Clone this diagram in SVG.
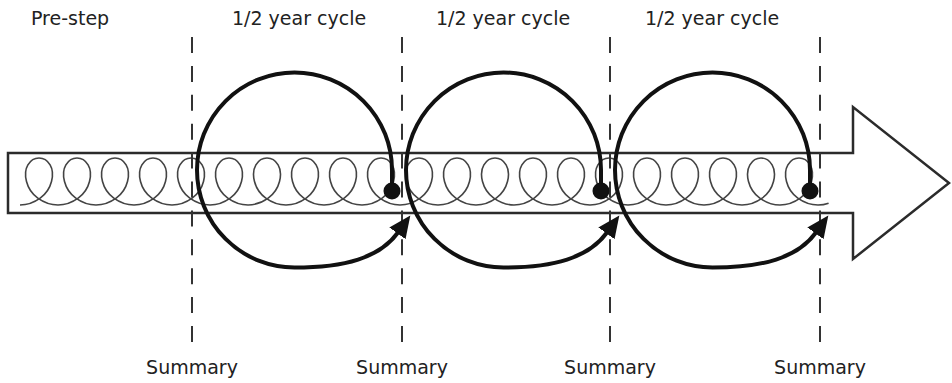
<svg xmlns="http://www.w3.org/2000/svg" xmlns:xlink="http://www.w3.org/1999/xlink" width="952" height="383" viewBox="0 0 952 383">
  <style>
    .body { fill: #ffffff; stroke: #2b2b2b; stroke-width: 2.5; stroke-linejoin: miter; }
    .coil { fill: none; stroke: #444444; stroke-width: 1.6; }
    .dash { stroke: #333333; stroke-width: 2; stroke-dasharray: 16 12.9; fill: none; }
    .cycle { fill: none; stroke: #111111; stroke-width: 4; }
    .dot { fill: #111111; }
    .label { font-family: "DejaVu Sans", "Liberation Sans", sans-serif; font-size: 19px; fill: #222222; }
  </style>
  <defs>
    <marker id="head" markerUnits="userSpaceOnUse" markerWidth="26" markerHeight="24" refX="1" refY="10" orient="auto">
      <path d="M0,0 L22,10 L0,20 Z" fill="#111111"/>
    </marker>
    <path id="loop" class="coil" d="M-19,23.5 C-11.657,23.5 -4.626,20.773 1.183,16.617 C6.992,12.461 10.917,6.152 12.5,0 C14.083,-6.152 13.587,-12.461 11.099,-16.617 C8.611,-20.773 4.176,-23.5 0,-23.5 C-4.176,-23.5 -8.611,-20.773 -11.099,-16.617 C-13.587,-12.461 -14.083,-6.152 -12.5,0 C-10.917,6.152 -6.992,12.461 -1.183,16.617 C4.626,20.773 11.657,23.5 19,23.5"/>
    <path id="cyc" class="cycle" d="M392,191 L392,170 A97.5,97.5 0 1,0 294.5,267.5 C344.5,267.5 379.5,258 398,232.5" marker-end="url(#head)"/>
  </defs>

  <g id="timeline-arrow">
    <path class="body" d="M8,153 L853,153 L853,107 L949,183 L853,259 L853,213 L8,213 Z"/>
  </g>

  <g id="coil">
    <use xlink:href="#loop" href="#loop" transform="translate(39,181.5)"/>
    <use xlink:href="#loop" href="#loop" transform="translate(77,181.5)"/>
    <use xlink:href="#loop" href="#loop" transform="translate(115,181.5)"/>
    <use xlink:href="#loop" href="#loop" transform="translate(153,181.5)"/>
    <use xlink:href="#loop" href="#loop" transform="translate(191,181.5)"/>
    <use xlink:href="#loop" href="#loop" transform="translate(229,181.5)"/>
    <use xlink:href="#loop" href="#loop" transform="translate(267,181.5)"/>
    <use xlink:href="#loop" href="#loop" transform="translate(305,181.5)"/>
    <use xlink:href="#loop" href="#loop" transform="translate(343,181.5)"/>
    <use xlink:href="#loop" href="#loop" transform="translate(381,181.5)"/>
    <use xlink:href="#loop" href="#loop" transform="translate(419,181.5)"/>
    <use xlink:href="#loop" href="#loop" transform="translate(457,181.5)"/>
    <use xlink:href="#loop" href="#loop" transform="translate(495,181.5)"/>
    <use xlink:href="#loop" href="#loop" transform="translate(533,181.5)"/>
    <use xlink:href="#loop" href="#loop" transform="translate(571,181.5)"/>
    <use xlink:href="#loop" href="#loop" transform="translate(609,181.5)"/>
    <use xlink:href="#loop" href="#loop" transform="translate(647,181.5)"/>
    <use xlink:href="#loop" href="#loop" transform="translate(685,181.5)"/>
    <use xlink:href="#loop" href="#loop" transform="translate(723,181.5)"/>
    <use xlink:href="#loop" href="#loop" transform="translate(761,181.5)"/>
    <use xlink:href="#loop" href="#loop" transform="translate(799,181.5)"/>
    <path class="coil" d="M818,205 C821.6,205 825.2,204.4 828.6,203.2"/>
  </g>

  <g id="connectors">
    <line class="dash" x1="192" y1="37" x2="192" y2="343"/>
    <line class="dash" x1="402" y1="37" x2="402" y2="343"/>
    <line class="dash" x1="610" y1="37" x2="610" y2="343"/>
    <line class="dash" x1="820" y1="37" x2="820" y2="343"/>
  </g>

  <g id="cycle-1">
    <use xlink:href="#cyc" href="#cyc"/>
    <circle class="dot" cx="392" cy="191" r="8.5"/>
  </g>
  <g id="cycle-2">
    <use xlink:href="#cyc" href="#cyc" transform="translate(209,0)"/>
    <circle class="dot" cx="601" cy="191" r="8.5"/>
  </g>
  <g id="cycle-3">
    <use xlink:href="#cyc" href="#cyc" transform="translate(418,0)"/>
    <circle class="dot" cx="810" cy="191" r="8.5"/>
  </g>

  <g id="labels-top">
    <text class="label" x="31" y="25">Pre-step</text>
    <text class="label" x="232" y="25">1/2 year cycle</text>
    <text class="label" x="436" y="25">1/2 year cycle</text>
    <text class="label" x="645" y="25">1/2 year cycle</text>
  </g>
  <g id="labels-bottom">
    <text class="label" x="192" y="374" text-anchor="middle">Summary</text>
    <text class="label" x="402" y="374" text-anchor="middle">Summary</text>
    <text class="label" x="610" y="374" text-anchor="middle">Summary</text>
    <text class="label" x="820" y="374" text-anchor="middle">Summary</text>
  </g>
</svg>
